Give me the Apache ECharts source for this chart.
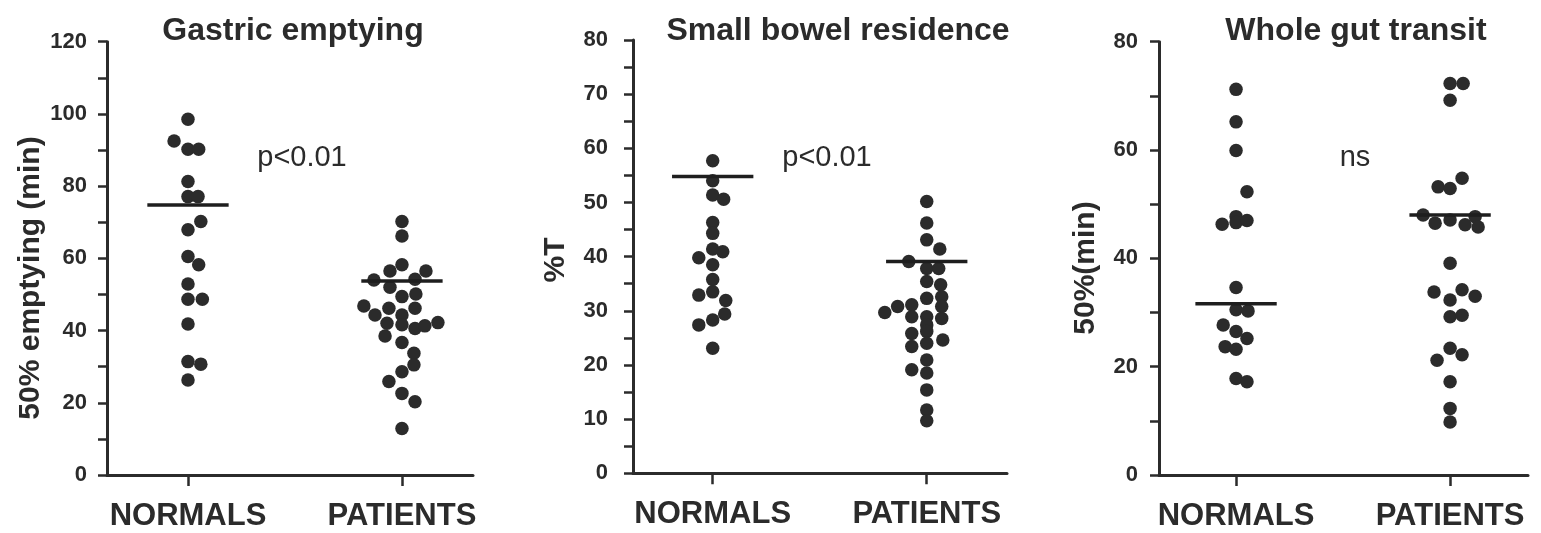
<!DOCTYPE html>
<html>
<head>
<meta charset="utf-8">
<title>Gastric emptying, small bowel residence, whole gut transit</title>
<script src="https://cdn.jsdelivr.net/npm/echarts@6.0.0/dist/echarts.min.js"></script>
<style>
  html, body { margin: 0; padding: 0; background: #fff; }
  #container { width: 1541px; height: 533px; }
</style>
</head>
<body>
<div id="container"></div>
<script>
// groups on the x axis: NORMALS = 1, PATIENTS = 2
const categories = ['NORMALS', 'PATIENTS'];
const titles = ['Gastric emptying', 'Small bowel residence', 'Whole gut transit'];
const yNames = ['50% emptying (min)', '%T', '50%(min)'];
const pLabels = ['p<0.01', 'p<0.01', 'ns'];
const yMax = [120, 80, 80];
const yTickStep = [10, 5, 10];
const yLabelStep = [20, 10, 20];

// values; dx = sideways spread of the dots (in group units)
const gastricNormals = [98.5, 92.5, 90.2, 90.2, 81.3, 77.1, 77.1, 70.2, 67.9, 60.5, 58.2, 52.9, 48.7, 48.7, 41.8, 31.4, 30.7, 26.3];
const gastricNormalsDx = [0, -0.065, 0, 0.05, 0, 0, 0.047, 0.06, 0, 0, 0.05, 0, 0, 0.067, 0, 0, 0.06, 0];
const gastricPatients = [70.2, 66.2, 58.2, 56.5, 56.5, 54.0, 54.2, 52.0, 49.4, 50.1, 46.8, 44.3, 46.2, 44.3, 46.2, 42.0, 41.6, 40.6, 41.3, 42.2, 38.5, 36.7, 33.7, 30.5, 28.6, 25.9, 22.6, 20.3, 12.9];
const gastricPatientsDx = [0, 0, 0, -0.056, 0.112, -0.131, 0.061, -0.056, 0, 0.065, -0.178, -0.126, -0.061, 0, 0.061, -0.07, 0, 0.061, 0.107, 0.168, -0.079, 0, 0.056, 0.056, 0, -0.061, 0, 0.061, 0];

const bowelNormals = [57.7, 54.0, 51.4, 50.6, 46.3, 44.3, 41.4, 40.9, 39.8, 38.5, 35.8, 33.5, 32.9, 31.9, 29.4, 28.3, 27.4, 23.1];
const bowelNormalsDx = [0, 0, 0, 0.051, 0, 0, 0, 0.047, -0.065, 0, 0, 0, -0.065, 0.061, 0.056, 0, -0.065, 0];
const bowelPatients = [50.2, 46.2, 43.1, 41.4, 39.1, 37.8, 37.8, 35.4, 34.8, 32.3, 32.6, 30.8, 28.6, 29.7, 30.8, 31.1, 28.9, 28.9, 27.4, 26.2, 25.8, 23.4, 24.0, 24.6, 20.9, 19.1, 18.5, 15.4, 11.7, 9.7];
const bowelPatientsDx = [0, 0, 0, 0.061, -0.084, 0, 0.056, 0, 0.065, 0, 0.07, 0.07, 0.07, -0.196, -0.136, -0.07, -0.07, 0, 0, 0, -0.07, -0.07, 0, 0.075, 0, -0.07, 0, 0, 0, 0];

const wholeNormals = [71.2, 65.2, 59.9, 52.3, 47.7, 46.3, 46.6, 47.0, 34.6, 30.5, 30.3, 27.7, 26.5, 25.2, 23.7, 23.2, 17.8, 17.2];
const wholeNormalsDx = [0, 0, 0, 0.051, 0, -0.065, 0, 0.051, 0, 0, 0.056, -0.06, 0, 0.051, -0.051, 0, 0, 0.051];
const wholePatients = [72.3, 72.3, 69.2, 53.2, 52.9, 54.8, 48.0, 46.5, 47.1, 46.2, 47.7, 45.8, 39.1, 33.8, 32.3, 34.2, 33.0, 29.2, 29.5, 23.4, 21.2, 22.2, 17.2, 12.3, 9.8];
const wholePatientsDx = [0, 0.061, 0, -0.056, 0, 0.056, -0.126, -0.07, 0, 0.07, 0.117, 0.131, 0, -0.075, 0, 0.056, 0.117, 0, 0.056, 0, -0.061, 0.056, 0, 0, 0];

// horizontal bars drawn across each group: [NORMALS, PATIENTS]
const gastricMeans = [74.8, 53.7];
const bowelMeans = [54.8, 39.1];
const wholeMeans = [31.6, 48.0];

window.onload = function () {
    const dom = document.getElementById('container');
    const myChart = echarts.init(dom);
    const ink = '#2b2b2b';
    const boldFont = 'Liberation Sans';

    const groups = [
        [gastricNormals, gastricNormalsDx, gastricPatients, gastricPatientsDx, gastricMeans],
        [bowelNormals, bowelNormalsDx, bowelPatients, bowelPatientsDx, bowelMeans],
        [wholeNormals, wholeNormalsDx, wholePatients, wholePatientsDx, wholeMeans]
    ];
    const grids = [
        { left: 107, top: 41.7, width: 366, height: 433.3 },
        { left: 633, top: 40, width: 374, height: 433.3 },
        { left: 1159, top: 41.7, width: 369, height: 433.3 }
    ];
    const xRanges = [[0.6215, 2.332], [0.6276, 2.375], [0.64, 2.364]];
    const labelMargins = [20, 25, 21];
    const namePos = [[31, 278], [556, 260], [1086, 268]];
    const titleX = [288, 833, 1351];
    const noteX = [302, 827, 1355];
    const halfBar = 0.19;

    function toPoints(values, dx, pos) {
        return values.map(function (v, i) { return [pos + dx[i], v]; });
    }

    const xAxis = [], yAxis = [], series = [], title = [], graphic = [];
    grids.forEach(function (g, k) {
        xAxis.push({
            type: 'value', gridIndex: k, min: xRanges[k][0], max: xRanges[k][1],
            splitLine: { show: false },
            axisLine: { lineStyle: { color: ink, width: 3 } },
            axisTick: { customValues: [1, 2], length: 11, lineStyle: { color: ink, width: 2.5 } },
            axisLabel: {
                customValues: [1, 2], margin: 26,
                formatter: function (v) { return categories[Math.round(v) - 1]; },
                color: ink, fontFamily: boldFont, fontWeight: 'bold', fontSize: 31
            }
        });
        yAxis.push({
            type: 'value', gridIndex: k, min: 0, max: yMax[k], interval: yTickStep[k],
            splitLine: { show: false },
            axisLine: { show: true, lineStyle: { color: ink, width: 3 } },
            axisTick: { length: 9, lineStyle: { color: ink, width: 2.5 } },
            axisLabel: {
                margin: labelMargins[k], color: ink, fontFamily: boldFont, fontWeight: 'bold', fontSize: 22,
                formatter: function (v) { return v % yLabelStep[k] === 0 ? String(v) : ''; }
            }
        });
        const d = groups[k];
        [[d[0], d[1], 1], [d[2], d[3], 2]].forEach(function (s) {
            series.push({
                type: 'scatter', xAxisIndex: k, yAxisIndex: k,
                symbolSize: 13.5, data: toPoints(s[0], s[1], s[2]),
                itemStyle: { color: ink, opacity: 1 }
            });
        });
        d[4].forEach(function (m, j) {
            series.push({
                type: 'line', xAxisIndex: k, yAxisIndex: k, z: 5,
                symbol: 'none', silent: true,
                data: [[j + 1 - halfBar, m], [j + 1 + halfBar, m]],
                lineStyle: { color: '#1e1e1e', width: 3.5 }
            });
        });
        title.push({
            text: titles[k], left: titleX[k], top: 10, textAlign: 'center',
            textStyle: { color: ink, fontFamily: boldFont, fontWeight: 'bold', fontSize: 32 }
        });
        graphic.push({
            type: 'text', x: noteX[k], y: 158,
            style: {
                text: pLabels[k], fill: ink, align: 'center', verticalAlign: 'middle',
                font: '29px "Liberation Sans"'
            }
        });
        graphic.push({
            type: 'text', x: namePos[k][0], y: namePos[k][1], rotation: Math.PI / 2,
            style: {
                text: yNames[k], fill: ink, align: 'center', verticalAlign: 'middle',
                font: 'bold 30px "Liberation Sans"'
            }
        });
    });

    myChart.setOption({
        animation: false,
        backgroundColor: '#ffffff',
        title: title,
        grid: grids,
        xAxis: xAxis,
        yAxis: yAxis,
        series: series,
        graphic: graphic
    });
};
</script>
</body>
</html>
